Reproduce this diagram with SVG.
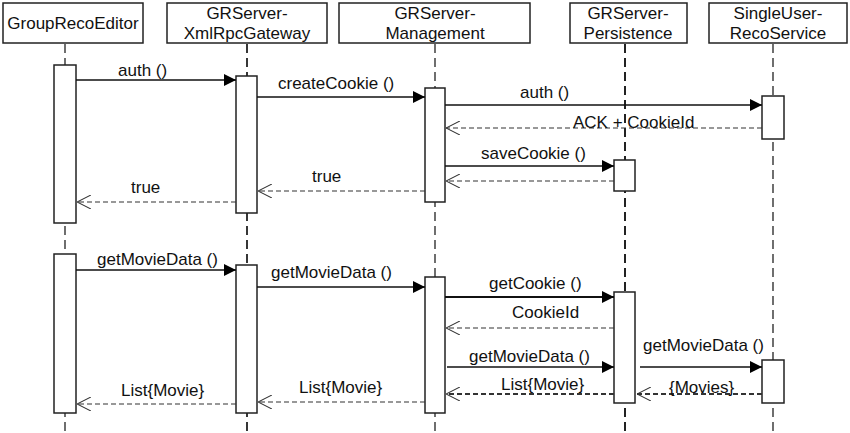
<svg xmlns="http://www.w3.org/2000/svg" width="850" height="433" viewBox="0 0 850 433">
<defs>
<style>
.box{fill:#fff;stroke:#222;stroke-width:1.5}
.act{fill:#fff;stroke:#222;stroke-width:1.5}
.life{stroke:#222;stroke-width:1.3;stroke-dasharray:9 5;fill:none}
.msg{stroke:#111;stroke-width:1.3;fill:none}
.ret{stroke:#333;stroke-width:1.1;stroke-dasharray:5 3;fill:none}
text{font-family:"Liberation Sans",Arial,sans-serif;font-size:17px;fill:#111}
.h{text-anchor:middle}
</style>
<marker id="tri" viewBox="0 0 12 12" refX="12" refY="6" markerWidth="12" markerHeight="12" markerUnits="userSpaceOnUse" orient="auto">
<path d="M0,0 L12,6 L0,12 Z" fill="#000"/>
</marker>
<marker id="open" viewBox="0 0 14 14" refX="14" refY="7" markerWidth="14" markerHeight="14" markerUnits="userSpaceOnUse" orient="auto">
<path d="M0,0 L14,7 L0,14" fill="none" stroke="#333" stroke-width="1.1"/>
</marker>
</defs>
<rect width="850" height="433" fill="#fff"/>

<g id="lifelines">
<line class="life" x1="65" y1="44" x2="65" y2="433"/>
<line class="life" x1="247" y1="44" x2="247" y2="433" style="stroke-width:1.8"/>
<line class="life" x1="435" y1="44" x2="435" y2="433"/>
<line class="life" x1="625" y1="44" x2="625" y2="433" style="stroke-width:2"/>
<line class="life" x1="773" y1="44" x2="773" y2="433"/>
</g>

<g id="GroupRecoEditor">
<rect class="box" x="3" y="3" width="140" height="40"/>
<text class="h" x="73" y="29">GroupRecoEditor</text>
</g>
<g id="XmlRpcGateway">
<rect class="box" x="167" y="3" width="160" height="40"/>
<text class="h" x="247" y="19">GRServer-</text>
<text class="h" x="247" y="39">XmlRpcGateway</text>
</g>
<g id="Management">
<rect class="box" x="339" y="3" width="191" height="40"/>
<text class="h" x="435" y="19">GRServer-</text>
<text class="h" x="435" y="39">Management</text>
</g>
<g id="Persistence">
<rect class="box" x="570" y="3" width="117" height="40"/>
<text class="h" x="628" y="19">GRServer-</text>
<text class="h" x="628" y="39">Persistence</text>
</g>
<g id="SingleUserRecoService">
<rect class="box" x="709" y="3" width="138" height="40"/>
<text class="h" x="778" y="19">SingleUser-</text>
<text class="h" x="778" y="39">RecoService</text>
</g>

<g id="activations">
<rect class="act" x="54" y="65" width="22" height="158"/>
<rect class="act" x="236" y="76" width="21" height="137"/>
<rect class="act" x="425" y="88" width="20" height="114"/>
<rect class="act" x="762" y="96" width="22" height="43"/>
<rect class="act" x="614" y="160" width="21" height="31"/>
<rect class="act" x="54" y="254" width="22" height="159"/>
<rect class="act" x="236" y="265" width="21" height="148"/>
<rect class="act" x="425" y="277" width="20" height="136"/>
<rect class="act" x="614" y="292" width="21" height="111"/>
<rect class="act" x="762" y="360" width="22" height="43"/>
</g>

<g id="connectors">
<line class="msg" x1="76" y1="80" x2="236" y2="80" marker-end="url(#tri)"/>
<line class="msg" x1="257" y1="97" x2="425" y2="97" marker-end="url(#tri)"/>
<line class="msg" x1="445" y1="105" x2="762" y2="105" marker-end="url(#tri)"/>
<line class="ret" x1="762" y1="128" x2="446" y2="128" marker-end="url(#open)"/>
<line class="msg" x1="445" y1="166" x2="614" y2="166" marker-end="url(#tri)"/>
<line class="ret" x1="614" y1="181" x2="446" y2="181" marker-end="url(#open)"/>
<line class="ret" x1="425" y1="191" x2="258" y2="191" marker-end="url(#open)"/>
<line class="ret" x1="236" y1="202" x2="77" y2="202" marker-end="url(#open)"/>

<line class="msg" x1="76" y1="270" x2="236" y2="270" marker-end="url(#tri)"/>
<line class="msg" x1="257" y1="287" x2="425" y2="287" marker-end="url(#tri)"/>
<line class="msg" x1="445" y1="297" x2="614" y2="297" marker-end="url(#tri)" style="stroke-width:2"/>
<line class="ret" x1="614" y1="328" x2="446" y2="328" marker-end="url(#open)"/>
<line class="msg" x1="447" y1="367" x2="614" y2="367" marker-end="url(#tri)"/>
<line class="msg" x1="640" y1="367" x2="762" y2="367" marker-end="url(#tri)"/>
<line class="ret" x1="762" y1="394" x2="637" y2="394" marker-end="url(#open)" style="stroke-width:1.8"/>
<line class="ret" x1="614" y1="394" x2="446" y2="394" marker-end="url(#open)" style="stroke-width:1.8"/>
<line class="ret" x1="425" y1="402" x2="258" y2="402" marker-end="url(#open)"/>
<line class="ret" x1="236" y1="404" x2="77" y2="404" marker-end="url(#open)"/>
</g>

<g id="labels">
<text x="118" y="76">auth ()</text>
<text x="278" y="89">createCookie ()</text>
<text x="520" y="98">auth ()</text>
<text x="573" y="128">ACK + CookieId</text>
<text x="481" y="159">saveCookie ()</text>
<text x="312" y="182">true</text>
<text x="131" y="193">true</text>
<text x="97" y="265">getMovieData ()</text>
<text x="271" y="278">getMovieData ()</text>
<text x="489" y="289">getCookie ()</text>
<text x="512" y="318">CookieId</text>
<text x="643" y="351">getMovieData ()</text>
<text x="469" y="362">getMovieData ()</text>
<text x="669" y="393">{Movies}</text>
<text x="501" y="390">List{Movie}</text>
<text x="299" y="393">List{Movie}</text>
<text x="121" y="396">List{Movie}</text>
</g>
</svg>
